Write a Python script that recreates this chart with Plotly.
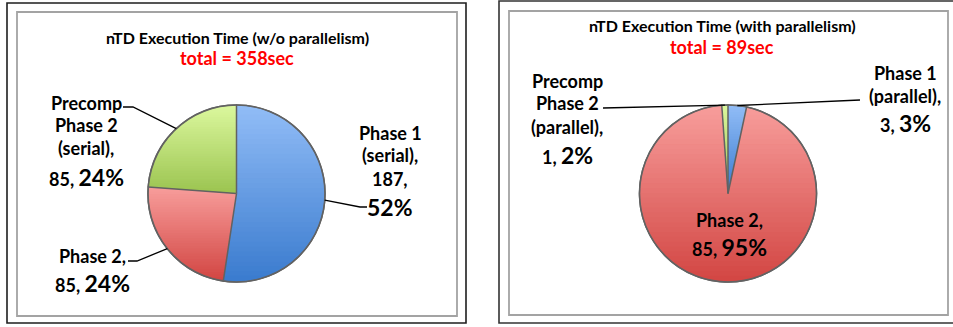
import numpy as np
import plotly.graph_objects as go

W, H = 953, 327

# ---- data -------------------------------------------------------------
serial_names = ["Phase 1 (serial)", "Phase 2", "Precomp Phase 2 (serial)"]
serial_secs = [187, 85, 85]
serial_pcts = ["52%", "24%", "24%"]
serial_total = 358

parallel_names = ["Phase 1 (parallel)", "Phase 2", "Precomp Phase 2 (parallel)"]
parallel_secs = [3, 85, 1]
parallel_pcts = ["3%", "95%", "2%"]
parallel_total = 89

# per-slice vertical gradient (top colour -> bottom colour)
slice_top = ["#92BDF7", "#F89E9C", "#DCF89E"]
slice_bottom = ["#3A7BCE", "#D24643", "#9BC450"]

FONT = "Lato, 'Open Sans', sans-serif"
OUTLINE = "#626262"


def px(x):
    return x / W


def py(y):
    return 1 - y / H


def hex_rgb(h):
    h = h.lstrip("#")
    return np.array([int(h[i:i + 2], 16) for i in (0, 2, 4)], float)


def lerp_color(c0, c1, t):
    c = hex_rgb(c0) * (1 - t) + hex_rgb(c1) * t
    return "rgb(%d,%d,%d)" % tuple(np.round(c).astype(int))


def clip_y(poly, lo, hi):
    """Clip a polygon (pixel coords, y down) to the band lo <= y <= hi."""
    def clip(points, keep, cross):
        out = []
        n = len(points)
        for i in range(n):
            p, q = points[i], points[(i + 1) % n]
            kp, kq = keep(p), keep(q)
            if kp:
                out.append(p)
            if kp != kq:
                out.append(cross(p, q))
        return out

    def cross_at(yv):
        def f(p, q):
            t = (yv - p[1]) / (q[1] - p[1])
            return (p[0] + t * (q[0] - p[0]), yv)
        return f

    poly = clip(poly, lambda p: p[1] >= lo, cross_at(lo))
    if not poly:
        return poly
    return clip(poly, lambda p: p[1] <= hi, cross_at(hi))


def path_of(points, closed=True):
    s = "M " + " L ".join("%.5f,%.5f" % (px(x), py(y)) for x, y in points)
    return s + (" Z" if closed else "")


def slice_angles(values):
    v = np.asarray(values, float)
    edges = np.concatenate([[0], np.cumsum(v) / v.sum() * 360.0])
    return edges


def on_circle(cx, cy, r, deg):
    t = np.radians(deg)
    return (cx + r * np.sin(t), cy - r * np.cos(t))


fig = go.Figure()
shapes = []
annotations = []


def add_pie(names, secs, cx, cy, r):
    mids = [lerp_color(a, b, 0.5) for a, b in zip(slice_top, slice_bottom)]
    fig.add_trace(go.Pie(
        labels=names, values=secs, sort=False, direction="clockwise",
        rotation=0, textinfo="none", showlegend=False,
        marker=dict(colors=mids, line=dict(color=OUTLINE, width=1.5)),
        domain=dict(x=[px(cx - r), px(cx + r)], y=[py(cy + r), py(cy - r)]),
    ))
    edges = slice_angles(secs)
    # gradient shading of each slice, band by band
    for k in range(len(secs)):
        a0, a1 = edges[k], edges[k + 1]
        n_arc = max(4, int((a1 - a0) / 1.0) + 2)
        wedge = [(cx, cy)] + [on_circle(cx, cy, r - 0.6, a)
                              for a in np.linspace(a0, a1, n_arc)]
        ys = [p[1] for p in wedge]
        y_min, y_max = min(ys), max(ys)
        nb = 36
        step = (y_max - y_min) / nb
        for b in range(nb):
            lo = y_min + b * step - (0.7 if b else 0)
            hi = y_min + (b + 1) * step
            part = clip_y(wedge, lo, hi)
            if len(part) < 3:
                continue
            col = lerp_color(slice_top[k], slice_bottom[k], (b + 0.5) / nb)
            shapes.append(dict(type="path", path=path_of(part), xref="paper",
                               yref="paper", fillcolor=col,
                               line=dict(width=0), layer="above"))
    # slice borders and outline
    for a in edges[:-1]:
        ex, ey = on_circle(cx, cy, r, a)
        shapes.append(dict(type="line", xref="paper", yref="paper",
                           x0=px(cx), y0=py(cy), x1=px(ex), y1=py(ey),
                           line=dict(color=OUTLINE, width=1.5), layer="above"))
    shapes.append(dict(type="circle", xref="paper", yref="paper",
                       x0=px(cx - r), x1=px(cx + r), y0=py(cy + r), y1=py(cy - r),
                       line=dict(color=OUTLINE, width=1.6), layer="above"))
    return edges


def big(p, size=23):
    return "<span style='font-size:%dpx'>%s</span>" % (size, p)


def add_label(lines, x, ys, size=18):
    for text, y in zip(lines, ys):
        annotations.append(dict(
            text=text, x=px(x), y=py(y), xref="paper", yref="paper",
            xanchor="center", yanchor="middle", showarrow=False,
            font=dict(family=FONT, size=size, color="black", weight="bold")))


def add_leader(edges, k, cx, cy, r, pts):
    mid = (edges[k] + edges[k + 1]) / 2
    end = on_circle(cx, cy, r, mid)
    shapes.append(dict(type="path", path=path_of(list(pts) + [end], closed=False),
                       xref="paper", yref="paper",
                       line=dict(color="black", width=1.3), layer="above"))


def add_title(title, total, x, y_title, y_total):
    annotations.append(dict(text=title, x=px(x), y=py(y_title), xref="paper",
                            yref="paper", showarrow=False, xanchor="center",
                            yanchor="middle",
                            font=dict(family=FONT, size=16, color="black",
                                      weight="bold")))
    annotations.append(dict(text="total = %dsec" % total, x=px(x), y=py(y_total),
                            xref="paper", yref="paper", showarrow=False,
                            xanchor="center", yanchor="middle",
                            font=dict(family=FONT, size=18, color="#FF0000",
                                      weight="bold")))


def frame(x0, y0, x1, y1, ix0, iy0, ix1, iy1, outer_color):
    shapes.append(dict(type="rect", xref="paper", yref="paper", x0=px(x0),
                       x1=px(x1), y0=py(y1), y1=py(y0),
                       line=dict(color=outer_color, width=1.6), layer="below"))
    shapes.append(dict(type="rect", xref="paper", yref="paper", x0=px(ix0),
                       x1=px(ix1), y0=py(iy1), y1=py(iy0),
                       line=dict(color="#A3A3A3", width=1.8), layer="below"))


# ---- left panel: serial run ------------------------------------------
frame(7, 3, 466, 323, 17, 12, 457, 316, "#1E1E1E")
add_title("nTD Execution Time (w/o parallelism)", serial_total, 237, 37, 58)
scx, scy, sr = 236.5, 193.5, 88.5
e_s = add_pie(serial_names, serial_secs, scx, scy, sr)

add_label(["Phase 1", "(serial),", "%d," % serial_secs[0], big(serial_pcts[0])],
          390, [133, 155, 179, 207])
add_label(["Phase 2,", "%d, %s" % (serial_secs[1], big(serial_pcts[1]))],
          92, [256, 283])
add_label(["Precomp", "Phase 2", "(serial),",
           "%d, %s" % (serial_secs[2], big(serial_pcts[2]))],
          86, [103, 125, 148, 177])
add_leader(e_s, 0, scx, scy, sr, [(367, 207), (360, 207)])
add_leader(e_s, 1, scx, scy, sr, [(128, 261), (137, 261)])
add_leader(e_s, 2, scx, scy, sr, [(123, 107), (133, 107)])

# ---- right panel: parallel run ---------------------------------------
frame(499, 1, 962, 323, 509, 11, 948, 315, "#333333")
add_title("nTD Execution Time (with parallelism)", parallel_total, 722, 25, 47)
pcx, pcy, pr = 728, 193.5, 88.5
e_p = add_pie(parallel_names, parallel_secs, pcx, pcy, pr)

add_label(["Phase 1", "(parallel),",
           "%d, %s" % (parallel_secs[0], big(parallel_pcts[0]))],
          905, [73, 96, 123])
add_label(["Phase 2,", "%d, %s" % (parallel_secs[1], big(parallel_pcts[1]))],
          729, [220, 247])
add_label(["Precomp", "Phase 2", "(parallel),",
           "%d, %s" % (parallel_secs[2], big(parallel_pcts[2]))],
          567, [81, 103, 127, 155])
add_leader(e_p, 0, pcx, pcy, pr, [(860, 100)])
add_leader(e_p, 2, pcx, pcy, pr, [(603, 108)])

fig.update_layout(
    width=W, height=H, margin=dict(l=0, r=0, t=0, b=0),
    paper_bgcolor="white", plot_bgcolor="white",
    shapes=shapes, annotations=annotations,
)

fig.write_html("out.html")
